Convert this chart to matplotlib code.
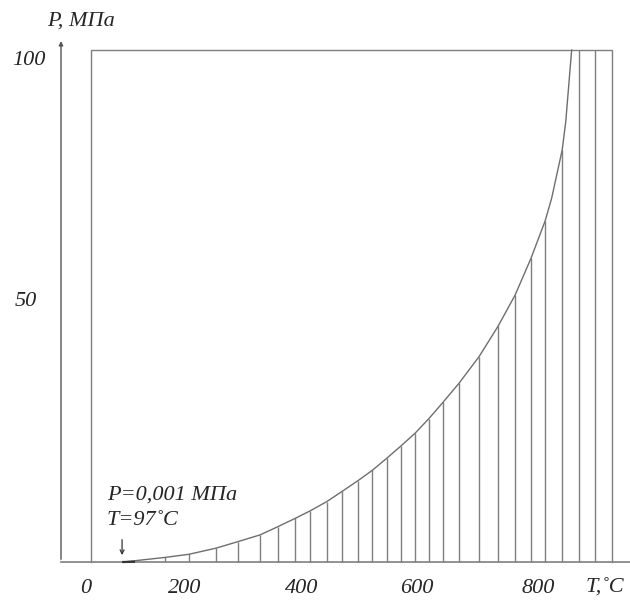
import matplotlib
matplotlib.use("Agg")
import matplotlib.pyplot as plt

# saturation line (T in C, P in MPa)
T_lines = [168, 208, 254, 292, 329, 359, 388, 414, 442, 468, 495, 519, 544,
           568, 592, 615, 639, 666, 700, 732, 761, 788, 812, 841, 869, 897]
P_lines = [0.9, 1.5, 2.7, 4.0, 5.3, 6.9, 8.5, 10.0, 11.8, 13.8, 15.9, 17.9, 20.3,
           22.7, 25.2, 28.0, 31.2, 34.9, 40.1, 46.0, 52.1, 59.3, 66.6, 80.5, 100, 100]

T_curve = [97, 168, 208, 254, 292, 329, 359, 388, 414, 442, 468, 495, 519, 544,
           568, 592, 615, 639, 666, 700, 732, 761, 788, 812, 823, 841, 847, 850, 857]
P_curve = [0.0, 0.9, 1.5, 2.7, 4.0, 5.3, 6.9, 8.5, 10.0, 11.8, 13.8, 15.9, 17.9, 20.3,
           22.7, 25.2, 28.0, 31.2, 34.9, 40.1, 46.0, 52.1, 59.3, 66.6, 71.0, 80.5, 86.0, 90.2, 100]

x_ticks = [34, 201, 400, 595, 800]
x_tick_labels = ["0", "200", "400", "600", "800"]
y_ticks = [98.0, 50.8]
y_tick_labels = ["100", "50"]

box_left, box_right, box_top = 42, 925, 100
axis_x = -8.5

fnt = {"family": ["Liberation Serif", "DejaVu Serif"], "style": "italic", "size": 16, "color": "#262626"}
gray = "#7f7f7f"

fig = plt.figure(figsize=(6.3, 6.0), dpi=100)
ax = fig.add_axes([0, 0, 1, 1])
ax.set_xlim(-111.9, 955.9)
ax.set_ylim(-7.42, 109.77)
ax.axis("off")

# box and baseline
ax.plot([box_left, box_left, box_right, box_right], [0, box_top, box_top, 0], color=gray, lw=1.0)
ax.plot([axis_x, 960], [0, 0], color=gray, lw=1.2)
ax.annotate("", xy=(axis_x, 102.3), xytext=(axis_x, 0),
            arrowprops=dict(arrowstyle="-|>", color="#555555", lw=1.0, mutation_scale=6))

# hatch lines under the curve
ax.vlines(T_lines, 0, P_lines, color=gray, lw=1.0)
ax.plot(T_curve, P_curve, color="#6e6e6e", lw=1.0)
ax.plot([97, 115], [0, 0.05], color="#333333", lw=1.6)

# labels
for x, s in zip(x_ticks, x_tick_labels):
    ax.text(x, -5.1, s, ha="center", va="center", fontdict=fnt)
ax.text(-62.7, y_ticks[0], y_tick_labels[0], ha="center", va="center", fontdict=fnt)
ax.text(-67.8, y_ticks[1], y_tick_labels[1], ha="center", va="center", fontdict=fnt)
ax.text(-32, 105.6, "P, МПа", ha="left", va="center", fontdict=fnt)
ax.text(880, -5.1, "T,˚C", ha="left", va="center", fontdict=fnt)
ax.text(69, 13.1, "P=0,001 МПа", ha="left", va="center", fontdict=fnt)
ax.text(69, 8.2, "T=97˚C", ha="left", va="center", fontdict=fnt)
ax.annotate("", xy=(95, 0.8), xytext=(95, 4.9),
            arrowprops=dict(arrowstyle="->", color="#333333", lw=0.9, mutation_scale=7))

fig.savefig("out.png", dpi=100, facecolor="white")
